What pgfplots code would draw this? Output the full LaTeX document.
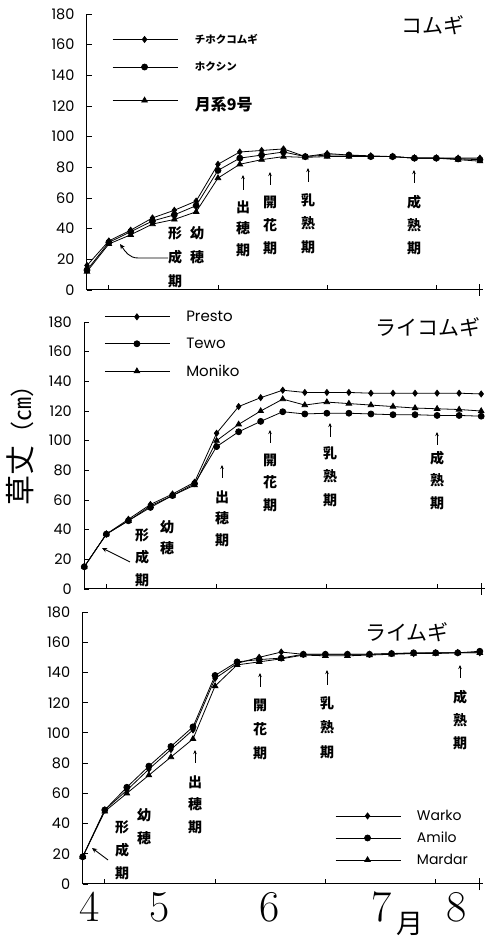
\documentclass[border=0pt]{standalone}
\usepackage{fontspec}
\setsansfont{Poppins}
\newfontfamily\cjk{Noto Sans CJK JP}
\usepackage{pgfplots}
\usepackage{pgfplotstable}
\pgfplotsset{compat=1.18}
\usetikzlibrary{arrows.meta}

\pgfplotstableread{
x a b c
0 16 13 12
1 32 31 30
2 39 38 36
3 47 45 43
4 52 49 46
5 58 55 51
6 82 78 73
7 90 86 82
8 91 88 85
9 92 90 87
10 87 87 86.5
11 89 88 87
12 88 88 87
13 87.5 87 87
14 87 87 87
15 86 86 86
16 86 86 86
17 86 85.5 85
18 86 85 84
}\tA
\pgfplotstableread{
x a b c
0 15 15 15
1 37 37 37
2 47 46 46
3 57 55 56
4 64 63 63
5 72 71 70
6 105 96 100
7 123 106 111
8 129 113 120
9 134 119.5 128
10 132.5 118 124
11 132.5 118.5 126
12 132.5 118.5 125
13 132 118 124
14 132 117.5 123
15 132 117.5 122
16 132 117 121.5
17 132 117 121
18 131.5 116.5 120
}\tB
\pgfplotstableread{
x a b c
0 18 18 18
1 49 49 48
2 62 64 60
3 76 78 72
4 89 91 84
5 102 104 96
6 136 138 131
7 146 147 145
8 150 148.5 147
9 153.5 149.5 149
10 152 152 151.5
11 152 152 151
12 152 152 151
13 152 152 151.5
14 152.5 152.5 152
15 152.5 153 152.5
16 153 153 152.5
17 153 153 153
18 153 154 153
}\tC

\pgfplotsset{
  panel/.style={
    scale only axis, clip=false,
    xmin=0, xmax=18.15, ymin=0, ymax=180,
    axis x line*=bottom, axis y line*=left,
    axis line style={-, line width=1pt},
    every tick/.style={black, line width=0.9pt},
    tick align=inside, major tick length=5pt,
    xtick={1,6,11,16}, xticklabels={},
    extra x ticks={18}, extra x tick labels={},
    extra x tick style={tick align=center, major tick length=12pt},
    ytick={0,20,...,180},
    yticklabel style={font=\sffamily\fontsize{14.5}{14.5}\selectfont, xshift=-9pt},
    /pgf/number format/assume math mode=true,
    legend cell align=left,
    legend image code/.code={\draw[mark repeat=2,mark phase=2,##1] plot coordinates {(0pt,0pt) (32pt,0pt) (65pt,0pt)};},
  },
  s1/.style={black, line width=0.8pt, mark=diamond*, mark size=3pt, mark options={solid}},
  s2/.style={black, line width=0.8pt, mark=*, mark size=3pt},
  s3/.style={black, line width=0.8pt, mark=triangle*, mark size=3.2pt},
}

\tikzset{ann/.style={font=\cjk\bfseries\fontsize{14}{14}\selectfont, inner sep=0pt},
  up/.style={line width=0.9pt, -{Stealth[length=4pt,width=3.5pt]}}}
\newcommand\vt[4]{\foreach \c [count=\i from 0] in {#4} {\node[ann] at (#1,{#2+\i*#3}) {\c};}}

\begin{document}
\begin{tikzpicture}
\useasboundingbox (0,0) rectangle (485pt,938pt);

% Panel 1
\begin{axis}[panel, at={(87pt,648pt)}, anchor=south west, width=396.2pt, height=276pt,
  legend style={draw=none, fill=none, at={(0.063,0.935)}, anchor=north west, row sep=13pt, inner sep=0pt}]
\addplot[s1] table[x=x,y=a]{\tA};
\addlegendentry{\cjk\bfseries\fontsize{10.5}{10.5}\selectfont\hspace*{15pt}チホクコムギ}
\addplot[s2] table[x=x,y=b]{\tA};
\addlegendentry{\cjk\bfseries\fontsize{10.5}{10.5}\selectfont\hspace*{15pt}ホクシン}
\addplot[s3] table[x=x,y=c]{\tA};
\addlegendentry{\cjk\bfseries\fontsize{16}{16}\selectfont\rule{0pt}{21pt}\hspace*{15pt}月系9号}
\end{axis}

% Panel 2
\begin{axis}[panel, at={(84.3pt,349pt)}, anchor=south west, width=400.2pt, height=267pt,
  legend style={draw=none, fill=none, at={(0.05,1.05)}, anchor=north west, row sep=11pt, inner sep=0pt,
  font=\sffamily\fontsize{15}{15}\selectfont}]
\addplot[s1] table[x=x,y=a]{\tB};
\addlegendentry{\hspace*{14pt}Presto}
\addplot[s2] table[x=x,y=b]{\tB};
\addlegendentry{\hspace*{14pt}Tewo}
\addplot[s3] table[x=x,y=c]{\tB};
\addlegendentry{\hspace*{14pt}Moniko}
\end{axis}

% Panel 3
\begin{axis}[panel, at={(82.7pt,54pt)}, anchor=south west, width=400.4pt, height=272pt,
  legend style={draw=none, fill=none, at={(0.63,0.28)}, anchor=north west, row sep=6pt, inner sep=0pt,
  font=\sffamily\fontsize{14}{14}\selectfont}]
\addplot[s1] table[x=x,y=a]{\tC};
\addlegendentry{\hspace*{14pt}Warko}
\addplot[s2] table[x=x,y=b]{\tC};
\addlegendentry{\hspace*{14pt}Amilo}
\addplot[s3] table[x=x,y=c]{\tC};
\addlegendentry{\hspace*{14pt}Mardar}
\end{axis}

\begin{scope}[x=1pt, y=-1pt, yshift=938pt]
% titles
\node[font=\cjk\fontsize{21}{21}\selectfont] at (433,25) {コムギ};
\node[font=\cjk\fontsize{21}{21}\selectfont] at (428,327) {ライコムギ};
\node[font=\cjk\fontsize{21}{21}\selectfont] at (407,632) {ライムギ};
% y label
\node[rotate=90, inner sep=0pt] at (20,440) {\cjk\fontsize{30}{30}\selectfont 草丈\fontsize{24}{24}\selectfont（㎝）};
% months
\node[font=\fontsize{44}{44}\selectfont, inner sep=0pt] at (90,907) {4};
\node[font=\fontsize{44}{44}\selectfont, inner sep=0pt] at (160,907) {5};
\node[font=\fontsize{44}{44}\selectfont, inner sep=0pt] at (270,907) {6};
\node[font=\fontsize{44}{44}\selectfont, inner sep=0pt] at (382,907) {7};
\node[font=\fontsize{44}{44}\selectfont, inner sep=0pt] at (457,907) {8};
\node[font=\cjk\fontsize{27}{27}\selectfont, inner sep=0pt] at (410,924) {月};

% panel 1 annotations
\draw[line width=0.9pt, -{Stealth[length=5pt,width=4.5pt]}] (168,258) -- (138,258) to[out=180,in=-55] (120,244);
\vt{175}{233}{24}{形,成,期}
\vt{197}{233}{24}{幼,穂}
\draw[up] (243,190) -- (243,175); \vt{243}{207}{21.5}{出,穂,期}
\draw[up] (270,185) -- (270,172); \vt{270}{202}{23}{開,花,期}
\draw[up] (308,182) -- (308,168); \vt{308}{200}{23.5}{乳,熟,期}
\draw[up] (414,183) -- (414,170); \vt{414}{202}{23}{成,熟,期}

% panel 2 annotations
\draw[line width=0.9pt, -{Stealth[length=5pt,width=4.5pt]}] (130,562) -- (102,548);
\vt{142}{535}{22.5}{形,成,期}
\vt{167}{527}{21}{幼,穂}
\draw[up] (222,478) -- (222,465); \vt{222}{497}{21.5}{出,穂,期}
\draw[up] (270,443) -- (270,430); \vt{270}{460}{22.5}{開,花,期}
\draw[up] (330,437) -- (330,423); \vt{330}{453}{23.5}{乳,熟,期}
\draw[up] (437,445) -- (437,432); \vt{437}{458}{22.5}{成,熟,期}

% panel 3 annotations
\draw[line width=0.9pt, -{Stealth[length=5pt,width=4.5pt]}] (108,860) -- (92,848);
\vt{122}{827}{23}{形,成,期}
\vt{144}{815}{23}{幼,穂}
\draw[up] (195,763) -- (195,750); \vt{195}{782}{22.5}{出,穂,期}
\draw[up] (260,687) -- (260,673); \vt{260}{705}{24}{開,花,期}
\draw[up] (327,685) -- (327,670); \vt{327}{703}{24.5}{乳,熟,期}
\draw[up] (460,678) -- (460,665); \vt{460}{697}{23}{成,熟,期}
\end{scope}
\end{tikzpicture}
\end{document}
